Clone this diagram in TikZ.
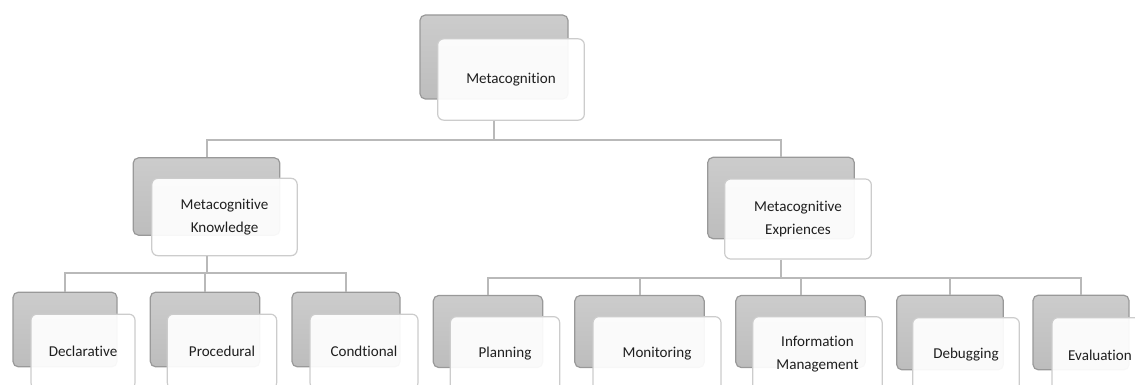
\documentclass[tikz,border=0pt]{standalone}
\usepackage{fontspec}
\setmainfont{Carlito}[Ligatures=NoCommon]
\usepackage{tikz}

\begin{document}
\begin{tikzpicture}[x=0.75pt,y=-0.75pt,
   back/.style={draw=gray!80,line width=0.9pt,rounded corners=4pt,
      top color=gray!40,bottom color=gray!52},
   front/.style={draw=gray!40,line width=0.9pt,rounded corners=4.5pt,
      fill=white,fill opacity=0.93,text opacity=1,text=black!88,align=center,
      font=\fontsize{11.3}{17}\selectfont},
   link/.style={draw=gray!55,line width=1.5pt}]
\useasboundingbox (0,0) rectangle (1135,385);
% top
\node[back,minimum width=111pt,minimum height=63pt] (mcb) at (494,57) {};
\node[front,minimum width=110pt,minimum height=61pt] (mc) at (511,79.5) {Metacognition};
% second level
\node[back,minimum width=110pt,minimum height=58pt] (mkb) at (206.5,196.5) {};
\node[front,minimum width=109pt,minimum height=58pt] (mk) at (224.5,217) {Metacognitive\\Knowledge};
\node[back,minimum width=110pt,minimum height=61pt] (meb) at (781,198) {};
\node[front,minimum width=110pt,minimum height=60pt] (me) at (798,219) {Metacognitive\\Expriences};
% leaves
\node[back,minimum width=78pt,minimum height=56pt] (declb) at (65,329.5) {};
\node[front,minimum width=78pt,minimum height=56pt] (decl) at (83,351.5) {Declarative};
\node[back,minimum width=82pt,minimum height=56pt] (procb) at (205,329.5) {};
\node[front,minimum width=82pt,minimum height=56pt] (proc) at (222,351.5) {Procedural};
\node[back,minimum width=81pt,minimum height=56pt] (condb) at (346,329.5) {};
\node[front,minimum width=81pt,minimum height=56pt] (cond) at (364,351.5) {Condtional};
\node[back,minimum width=82pt,minimum height=54pt] (planb) at (488,331.5) {};
\node[front,minimum width=82pt,minimum height=56pt] (plan) at (505,354) {Planning};
\node[back,minimum width=97pt,minimum height=54pt] (monb) at (639.5,331.5) {};
\node[front,minimum width=96pt,minimum height=56pt] (mon) at (657,354) {Monitoring};
\node[back,minimum width=97pt,minimum height=54pt] (infob) at (800.5,331.5) {};
\node[front,minimum width=97pt,minimum height=56pt] (info) at (817.5,354) {Information\\Management};
\node[back,minimum width=80pt,minimum height=56pt] (debugb) at (950,332.5) {};
\node[front,minimum width=80pt,minimum height=56pt] (debug) at (966,355) {Debugging};
\node[back,minimum width=72pt,minimum height=56pt] (evalb) at (1081,332.5) {};
\node[front,minimum width=72pt,minimum height=56pt] (eval) at (1100,355) {Evaluation};
% connectors
\coordinate (bus) at (494,140);
\coordinate (kbus) at (206.5,273);
\coordinate (ebus) at (781,278);
\draw[link] (mcb |- mc.south) -- (bus);
\draw[link] (bus) -| (mkb.north);
\draw[link] (bus) -| (meb.north);
\draw[link] (mkb |- mk.south) -- (kbus);
\foreach \n in {declb,procb,condb} \draw[link] (kbus) -| (\n.north);
\draw[link] (meb |- me.south) -- (ebus);
\foreach \n in {planb,monb,infob,debugb,evalb} \draw[link] (ebus) -| (\n.north);
\end{tikzpicture}
\end{document}
